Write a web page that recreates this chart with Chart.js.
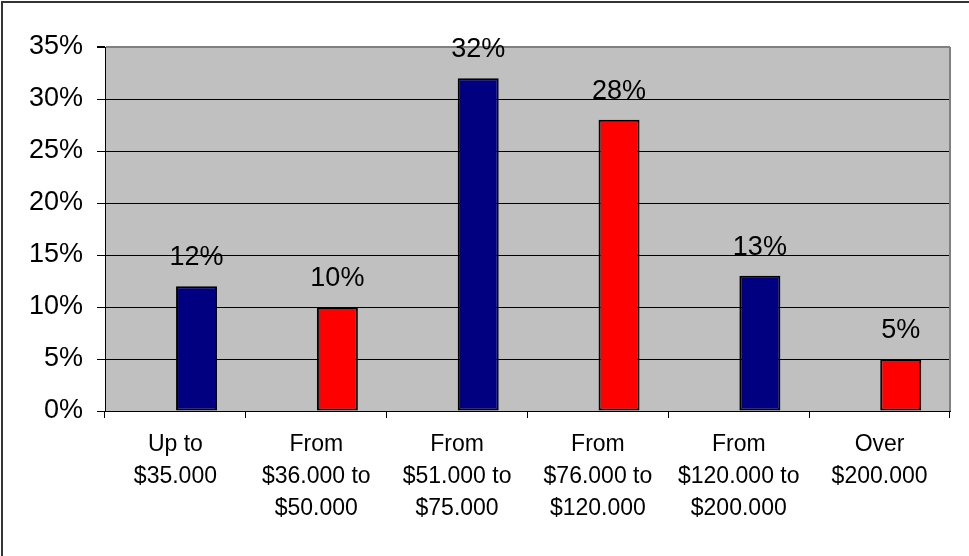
<!DOCTYPE html>
<html>
<head>
<meta charset="utf-8">
<script src="https://cdn.jsdelivr.net/npm/chart.js@4/dist/chart.umd.min.js"></script>
<style>
  html, body { margin: 0; padding: 0; background: #fff; }
  #wrap { width: 969px; height: 556px; position: relative; }
</style>
</head>
<body>
<div id="wrap"><canvas id="c" width="969" height="556"></canvas></div>
<script>
const categories = [
  ["Up to", "$35.000"],
  ["From", "$36.000 to", "$50.000"],
  ["From", "$51.000 to", "$75.000"],
  ["From", "$76.000 to", "$120.000"],
  ["From", "$120.000 to", "$200.000"],
  ["Over", "$200.000"]
];
const sharePercent = [12, 10, 32, 28, 13, 5];
const spacerValues = [null, null, null, null, null, null];
const yTickValues = [0, 5, 10, 15, 20, 25, 30, 35];

const barColors = ["#000080", "#FF0000", "#000080", "#FF0000", "#000080", "#FF0000"];
const FONT = "'Liberation Sans', Arial, sans-serif";

const decorPlugin = {
  id: 'decor',
  beforeDraw(chart) {
    const {ctx, chartArea: a} = chart;
    ctx.save();
    ctx.fillStyle = '#C0C0C0';
    ctx.fillRect(a.left, a.top, a.right - a.left, a.bottom - a.top);
    ctx.restore();
  },
  afterDraw(chart) {
    const {ctx, chartArea: a} = chart;
    ctx.save();
    ctx.strokeStyle = '#808080';
    ctx.lineWidth = 2;
    ctx.beginPath();
    ctx.moveTo(a.right, a.top);
    ctx.lineTo(a.right, a.bottom);
    ctx.stroke();
    ctx.strokeStyle = '#333';
    ctx.lineWidth = 2;
    ctx.beginPath();
    ctx.moveTo(2, 556);
    ctx.lineTo(2, 2);
    ctx.lineTo(969, 2);
    ctx.stroke();
    const meta = chart.getDatasetMeta(1);
    ctx.fillStyle = '#000';
    ctx.font = '27px ' + FONT;
    ctx.textAlign = 'center';
    ctx.textBaseline = 'alphabetic';
    meta.data.forEach((el, i) => {
      const v = sharePercent[i];
      if (v == null) return;
      ctx.fillText(v + '%', el.x, el.y - 21);
    });
    ctx.restore();
  }
};

new Chart(document.getElementById('c'), {
  type: 'bar',
  data: {
    labels: categories,
    datasets: [
      { label: 'spacer', data: spacerValues, backgroundColor: 'transparent' },
      {
        label: 'Share',
        data: sharePercent,
        backgroundColor: barColors,
        borderColor: '#000',
        borderWidth: 2,
        borderSkipped: false
      }
    ]
  },
  options: {
    responsive: false,
    animation: false,
    devicePixelRatio: 1,
    categoryPercentage: 0.6,
    barPercentage: 0.97,
    layout: { padding: { left: 0, top: 47, right: 19, bottom: 0 } },
    plugins: { legend: { display: false }, tooltip: { enabled: false } },
    scales: {
      x: {
        afterFit(s) { s.height = 145; },
        grid: {
          display: true,
          drawOnChartArea: false,
          offset: true,
          tickLength: 7,
          color: '#000',
          tickColor: '#000'
        },
        border: { color: '#000', width: 1 },
        ticks: {
          color: '#000',
          padding: 11,
          maxRotation: 0,
          autoSkip: false,
          font: { family: FONT, size: 23, lineHeight: 1.38 }
        }
      },
      y: {
        min: 0,
        max: 35,
        afterFit(s) { s.width = 105; },
        afterBuildTicks(s) { s.ticks = yTickValues.map(v => ({ value: v })); },
        grid: {
          color: ctx => (ctx.tick && ctx.tick.value === 35) ? '#808080' : '#000',
          lineWidth: ctx => (ctx.tick && ctx.tick.value === 35) ? 2 : 1,
          tickLength: 8,
          tickColor: '#000'
        },
        border: { color: '#000', width: 1 },
        ticks: {
          color: '#000',
          padding: 14,
          font: { family: FONT, size: 27 },
          callback: v => v + '%'
        }
      }
    }
  },
  plugins: [decorPlugin]
});
</script>
</body>
</html>
